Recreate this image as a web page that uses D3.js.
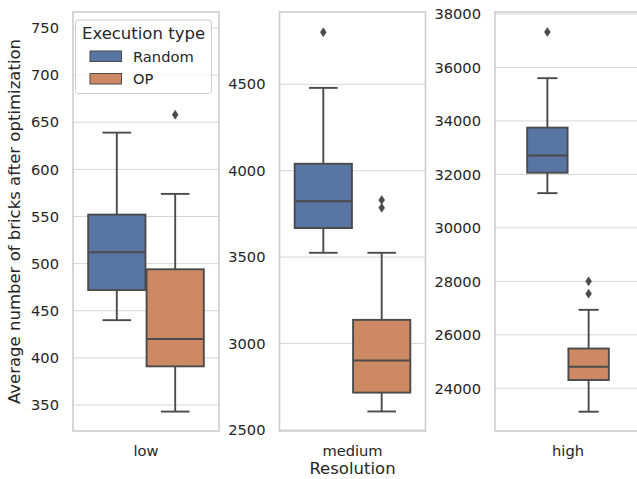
<!DOCTYPE html>
<html>
<head>
<meta charset="utf-8">
<script src="https://cdn.jsdelivr.net/npm/d3@7"></script>
<style>
  html, body { margin: 0; padding: 0; background: #fff; }
  svg { display: block; font-family: "DejaVu Sans", sans-serif; }
</style>
</head>
<body>
<svg id="chart" width="637" height="479"></svg>
<script>
// ---------------- DATA ----------------
const categories = ["low", "medium", "high"];
const series = ["Random", "OP"];

const randomWhiskerLow  = [440, 3525, 31300];
const randomQ1          = [472, 3668, 32064];
const randomMedian      = [512, 3823, 32710];
const randomQ3          = [552, 4040, 33750];
const randomWhiskerHigh = [639, 4479, 35600];
const randomOutliers    = [[], [4801], [37330]];

const opWhiskerLow  = [343, 2607, 23125];
const opQ1          = [391, 2716, 24310];
const opMedian      = [420, 2902, 24807];
const opQ3          = [494, 3137, 25488];
const opWhiskerHigh = [574, 3525, 26935];
const opOutliers    = [[658], [3830, 3785], [28000, 27540]];

const yTicksLow    = [350, 400, 450, 500, 550, 600, 650, 700, 750];
const yTicksMedium = [2500, 3000, 3500, 4000, 4500];
const yTicksHigh   = [24000, 26000, 28000, 30000, 32000, 34000, 36000, 38000];

const yLabel = "Average number of bricks after optimization";
const xLabel = "Resolution";
const legendTitle = "Execution type";

// ---------------- LAYOUT / STYLE ----------------
const panels = [
  { x0: 73,    x1: 219,   domain: [322.4, 767],  ticks: yTicksLow,    dodge: 0.8 },
  { x0: 279.5, x1: 425.5, domain: [2494, 4918],  ticks: yTicksMedium, dodge: 0.8 },
  { x0: 495,   x1: 641,   domain: [22403, 38075], ticks: yTicksHigh,  dodge: 0.565 }
];
const plotTop = 12, plotBottom = 431;
const colors = { Random: "#5875a4", OP: "#cc8963" };
const lineColor = "#4b4b4b";
const gridColor = "#d6d6d6";
const spineColor = "#cccccc";
const textColor = "#262626";
const lw = 1.9;

const stats = {
  Random: { lo: randomWhiskerLow, q1: randomQ1, med: randomMedian, q3: randomQ3, hi: randomWhiskerHigh, out: randomOutliers },
  OP:     { lo: opWhiskerLow,     q1: opQ1,     med: opMedian,     q3: opQ3,     hi: opWhiskerHigh,     out: opOutliers }
};

const svg = d3.select("#chart");

panels.forEach((p, i) => {
  const cat = categories[i];
  const x = d3.scaleBand().domain([cat]).range([p.x0, p.x1]).paddingInner(0).paddingOuter(0);
  const bw = x.bandwidth();
  const hue = d3.scaleBand().domain(series)
    .range([x(cat) + bw * (1 - p.dodge) / 2, x(cat) + bw * (1 + p.dodge) / 2]);
  const y = d3.scaleLinear().domain(p.domain).range([plotBottom, plotTop]);

  const g = svg.append("g");

  // grid lines
  g.selectAll("line.grid").data(p.ticks).enter().append("line")
    .attr("x1", p.x0).attr("x2", p.x1)
    .attr("y1", d => y(d)).attr("y2", d => y(d))
    .attr("stroke", gridColor).attr("stroke-width", 1);

  // y axis
  const yAxis = d3.axisLeft(y).tickValues(p.ticks).tickSize(0).tickPadding(14).tickFormat(d3.format("d"));
  const ya = g.append("g").attr("transform", `translate(${p.x0},0)`).call(yAxis);
  ya.select(".domain").remove();
  ya.selectAll("text").attr("fill", textColor).style("font-size", "14.67px")
    .style("font-family", "DejaVu Sans, sans-serif");

  // x axis
  const xAxis = d3.axisBottom(x).tickSize(0).tickPadding(15);
  const xa = g.append("g").attr("transform", `translate(0,${plotBottom})`).call(xAxis);
  xa.select(".domain").remove();
  xa.selectAll("text").attr("fill", textColor).style("font-size", "14.67px")
    .style("font-family", "DejaVu Sans, sans-serif");

  // spines
  g.append("rect").attr("x", p.x0).attr("y", plotTop)
    .attr("width", p.x1 - p.x0).attr("height", plotBottom - plotTop)
    .attr("fill", "none").attr("stroke", spineColor).attr("stroke-width", 1.6);

  // boxes
  const boxW = hue.bandwidth() * 0.98;
  series.forEach(s => {
    const st = stats[s];
    const cx = hue(s) + hue.bandwidth() / 2;
    const bg = g.append("g");
    bg.append("line").attr("x1", cx).attr("x2", cx)
      .attr("y1", y(st.q3[i])).attr("y2", y(st.hi[i]))
      .attr("stroke", lineColor).attr("stroke-width", lw);
    bg.append("line").attr("x1", cx).attr("x2", cx)
      .attr("y1", y(st.q1[i])).attr("y2", y(st.lo[i]))
      .attr("stroke", lineColor).attr("stroke-width", lw);
    [st.hi[i], st.lo[i]].forEach(v => {
      bg.append("line").attr("x1", cx - boxW / 4).attr("x2", cx + boxW / 4)
        .attr("y1", y(v)).attr("y2", y(v))
        .attr("stroke", lineColor).attr("stroke-width", lw);
    });
    bg.append("rect").attr("x", cx - boxW / 2).attr("width", boxW)
      .attr("y", y(st.q3[i])).attr("height", y(st.q1[i]) - y(st.q3[i]))
      .attr("fill", colors[s]).attr("stroke", lineColor).attr("stroke-width", lw);
    bg.append("line").attr("x1", cx - boxW / 2).attr("x2", cx + boxW / 2)
      .attr("y1", y(st.med[i])).attr("y2", y(st.med[i]))
      .attr("stroke", lineColor).attr("stroke-width", lw);
    st.out[i].forEach(v => {
      const cy = y(v);
      bg.append("path")
        .attr("d", `M${cx},${cy - 4.5}L${cx + 3},${cy}L${cx},${cy + 4.5}L${cx - 3},${cy}Z`)
        .attr("fill", lineColor).attr("stroke", lineColor).attr("stroke-width", 0.5);
    });
  });
});

// y label
svg.append("text")
  .attr("transform", `translate(20,${(plotTop + plotBottom) / 2}) rotate(-90)`)
  .attr("text-anchor", "middle")
  .attr("fill", textColor)
  .style("font-size", "16.5px")
  .text(yLabel);

// x label
svg.append("text")
  .attr("x", (panels[1].x0 + panels[1].x1) / 2)
  .attr("y", 474)
  .attr("text-anchor", "middle")
  .attr("fill", textColor)
  .style("font-size", "16.5px")
  .text(xLabel);

// legend
const lg = svg.append("g");
lg.append("rect").attr("x", 75.5).attr("y", 20).attr("width", 136).attr("height", 73.5)
  .attr("rx", 3).attr("ry", 3)
  .attr("fill", "#ffffff").attr("fill-opacity", 0.8)
  .attr("stroke", "#cccccc").attr("stroke-width", 1);
lg.append("text").attr("x", 143.5).attr("y", 39)
  .attr("text-anchor", "middle").attr("fill", textColor)
  .style("font-size", "16.5px").text(legendTitle);
series.forEach((s, k) => {
  const yy = 51 + k * 22.5;
  lg.append("rect").attr("x", 90).attr("y", yy).attr("width", 31.5).attr("height", 10.5)
    .attr("fill", colors[s]).attr("stroke", lineColor).attr("stroke-width", 1);
  lg.append("text").attr("x", 133).attr("y", yy + 10.5)
    .attr("fill", textColor).style("font-size", "14.67px").text(s);
});
</script>
</body>
</html>
